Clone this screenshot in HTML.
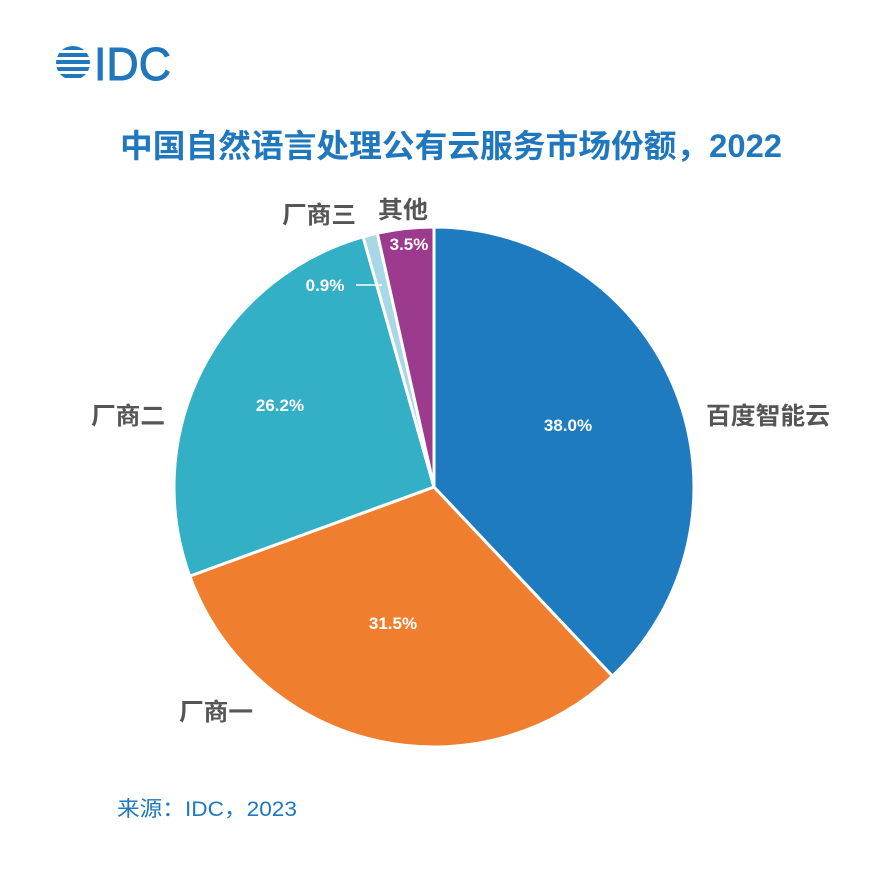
<!DOCTYPE html>
<html><head><meta charset="utf-8">
<style>
body{margin:0;background:#fff;width:891px;height:887px;overflow:hidden;font-family:"Liberation Sans","Noto Sans CJK SC",sans-serif;}
</style></head><body>
<svg id="s" width="891" height="887" xmlns="http://www.w3.org/2000/svg" style="position:absolute;left:0;top:0">
  <g fill="#1f77bd">
    <clipPath id="gc"><circle cx="73" cy="63" r="17"/></clipPath>
    <g clip-path="url(#gc)">
      <rect x="56" y="46" width="34" height="4"/>
      <rect x="56" y="53" width="34" height="4"/>
      <rect x="56" y="60" width="34" height="4"/>
      <rect x="56" y="67" width="34" height="4"/>
      <rect x="56" y="74" width="34" height="4"/>
    </g>
    <text x="94" y="80" font-size="46" font-family="Liberation Sans,sans-serif" stroke="#1f77bd" stroke-width="1" textLength="77" lengthAdjust="spacingAndGlyphs">IDC</text>
  </g>
  <text x="120" y="157" font-size="32" font-weight="bold" fill="#1f77bd" textLength="662" lengthAdjust="spacingAndGlyphs" font-family="Liberation Sans,Noto Sans CJK SC,sans-serif">中国自然语言处理公有云服务市场份额，2022</text>
  <g id="pie"></g>
  <g font-family="Liberation Sans,Noto Sans CJK SC,sans-serif" font-weight="bold">
    <g fill="#fff" font-size="17" text-anchor="middle">
      <text x="568" y="431">38.0%</text>
      <text x="393" y="629">31.5%</text>
      <text x="280" y="411">26.2%</text>
      <text x="325" y="291">0.9%</text>
      <text x="409" y="250">3.5%</text>
    </g>
    <line x1="356" y1="285" x2="382" y2="285" stroke="#fff" stroke-width="1.5"/>
    <g fill="#555" font-size="24">
      <text x="706" y="424" textLength="124" lengthAdjust="spacingAndGlyphs">百度智能云</text>
      <text x="179" y="720" textLength="74" lengthAdjust="spacingAndGlyphs">厂商一</text>
      <text x="91" y="424" textLength="74" lengthAdjust="spacingAndGlyphs">厂商二</text>
      <text x="282" y="223" textLength="74" lengthAdjust="spacingAndGlyphs">厂商三</text>
      <text x="378" y="218" textLength="50" lengthAdjust="spacingAndGlyphs">其他</text>
    </g>
  </g>
  <text x="117" y="816" font-size="21" fill="#1f77bd" textLength="180" lengthAdjust="spacingAndGlyphs" font-family="Liberation Sans,Noto Sans CJK SC,sans-serif">来源：IDC，2023</text>
</svg>
<script>
var cx=434,cy=487,r=260;
var d=[[38.0,"#1f7bbf"],[31.5,"#ef7f2f"],[26.2,"#33afc6"],[0.9,"#a8d8e6"],[3.5,"#9c3a8e"]];
var tot=100.1,a=0,h="";
function p(t){return [cx+r*Math.sin(t),cy-r*Math.cos(t)];}
d.forEach(function(s){
 var a1=a+s[0]/tot*2*Math.PI;var p0=p(a),p1=p(a1);
 h+='<path d="M'+cx+','+cy+' L'+p0[0]+','+p0[1]+' A'+r+','+r+' 0 '+((a1-a)>Math.PI?1:0)+' 1 '+p1[0]+','+p1[1]+' Z" fill="'+s[1]+'" stroke="#fff" stroke-width="3" stroke-linejoin="round"/>';
 a=a1;});
document.getElementById("pie").innerHTML=h;
</script>
</body></html>
